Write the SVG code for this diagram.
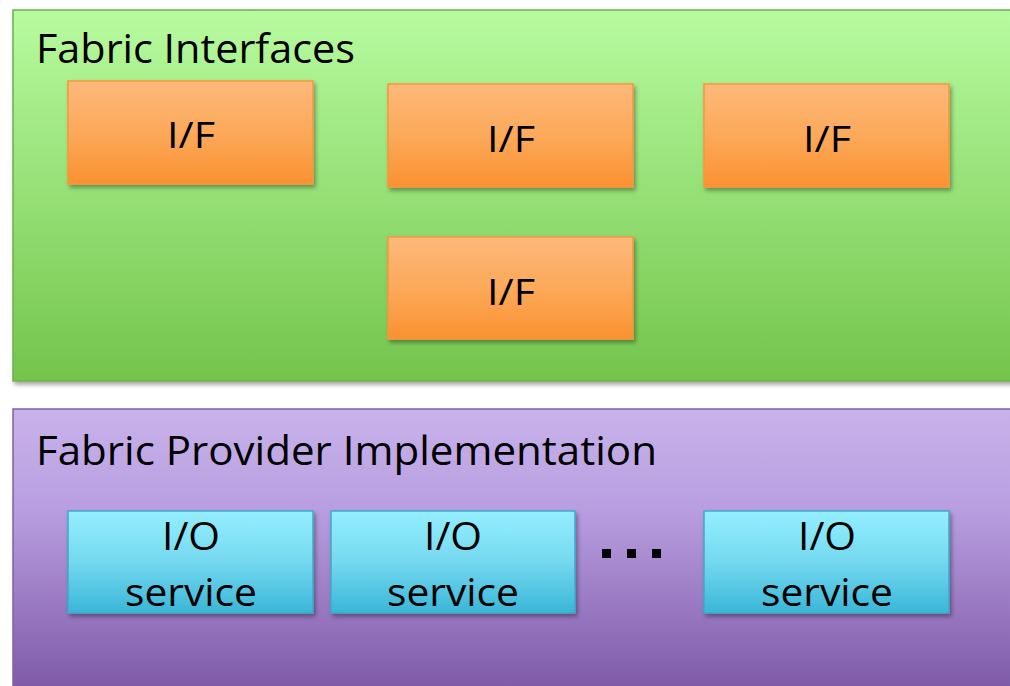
<svg xmlns="http://www.w3.org/2000/svg" width="1010" height="686" viewBox="0 0 1010 686">
  <defs>
    <linearGradient id="gGreen" x1="0" y1="0" x2="0" y2="1">
      <stop offset="0" stop-color="#b7fb9f"/>
      <stop offset="1" stop-color="#74c44c"/>
    </linearGradient>
    <linearGradient id="gPurple" x1="0" y1="0" x2="0" y2="1">
      <stop offset="0" stop-color="#c9b2eb"/>
      <stop offset="0.35" stop-color="#b89ee0"/>
      <stop offset="1" stop-color="#7b56a4"/>
    </linearGradient>
    <linearGradient id="gOrange" x1="0" y1="0" x2="0" y2="1">
      <stop offset="0" stop-color="#fdb97a"/>
      <stop offset="0.5" stop-color="#fca95a"/>
      <stop offset="1" stop-color="#fa9130"/>
    </linearGradient>
    <linearGradient id="gCyan" x1="0" y1="0" x2="0" y2="1">
      <stop offset="0" stop-color="#94efff"/>
      <stop offset="0.5" stop-color="#74d8ef"/>
      <stop offset="1" stop-color="#3ab6d8"/>
    </linearGradient>
    <filter id="shadow" x="-10%" y="-10%" width="130%" height="140%">
      <feDropShadow dx="2" dy="3" stdDeviation="2" flood-color="#000" flood-opacity="0.35"/>
    </filter>
  </defs>
  <style>
    .panelG { fill: url(#gGreen); stroke: #6fae50; stroke-width: 1.5; filter: url(#shadow); }
    .panelP { fill: url(#gPurple); stroke: #7c62a4; stroke-width: 1.5; }
    .iface { fill: url(#gOrange); stroke: #f7963f; stroke-width: 1.5; filter: url(#shadow); }
    .iosvc { fill: url(#gCyan); stroke: #3fa9c8; stroke-width: 1.5; filter: url(#shadow); }
    .title { font-family: "Open Sans", "Liberation Sans", sans-serif; font-size: 41px; fill: #000; }
    .lbl { font-family: "Open Sans", "Liberation Sans", sans-serif; font-size: 36px; fill: #000; text-anchor: middle; }
    .svc { font-family: "Open Sans", "Liberation Sans", sans-serif; font-size: 38px; fill: #000; text-anchor: middle; }
  </style>

  <rect width="1010" height="686" fill="#ffffff"/>

  <!-- Fabric Interfaces layer -->
  <g id="fabric-interfaces">
    <rect class="panelG" x="13" y="10" width="1010" height="371"/>
    <text class="title" x="36" y="63" textLength="319" lengthAdjust="spacingAndGlyphs">Fabric Interfaces</text>
  </g>
  <g id="if-1">
    <rect class="iface" x="68" y="81" width="245" height="103"/>
    <text class="lbl" x="191" y="148" textLength="48" lengthAdjust="spacingAndGlyphs">I/F</text>
  </g>
  <g id="if-2">
    <rect class="iface" x="388" y="84" width="245" height="103"/>
    <text class="lbl" x="511" y="152" textLength="48" lengthAdjust="spacingAndGlyphs">I/F</text>
  </g>
  <g id="if-3">
    <rect class="iface" x="704" y="84" width="245" height="103"/>
    <text class="lbl" x="827" y="152" textLength="48" lengthAdjust="spacingAndGlyphs">I/F</text>
  </g>
  <g id="if-4">
    <rect class="iface" x="388" y="237" width="245" height="102"/>
    <text class="lbl" x="511" y="305" textLength="48" lengthAdjust="spacingAndGlyphs">I/F</text>
  </g>

  <!-- Fabric Provider Implementation layer -->
  <g id="fabric-provider">
    <rect class="panelP" x="13" y="409" width="1010" height="290"/>
    <text class="title" x="36" y="465" textLength="621" lengthAdjust="spacingAndGlyphs">Fabric Provider Implementation</text>
  </g>
  <g id="io-service-1">
    <rect class="iosvc" x="68" y="511" width="245" height="102"/>
    <text class="svc" x="191" y="550" textLength="58" lengthAdjust="spacingAndGlyphs">I/O</text>
    <text class="svc" x="191" y="606" textLength="132" lengthAdjust="spacingAndGlyphs">service</text>
  </g>
  <g id="io-service-2">
    <rect class="iosvc" x="331" y="511" width="244" height="102"/>
    <text class="svc" x="453" y="550" textLength="58" lengthAdjust="spacingAndGlyphs">I/O</text>
    <text class="svc" x="453" y="606" textLength="132" lengthAdjust="spacingAndGlyphs">service</text>
  </g>
  <g id="ellipsis">
    <rect x="602" y="549" width="9" height="9" fill="#000"/>
    <rect x="627" y="549" width="9" height="9" fill="#000"/>
    <rect x="652" y="549" width="9" height="9" fill="#000"/>
  </g>
  <g id="io-service-3">
    <rect class="iosvc" x="704" y="511" width="245" height="102"/>
    <text class="svc" x="827" y="550" textLength="58" lengthAdjust="spacingAndGlyphs">I/O</text>
    <text class="svc" x="827" y="606" textLength="132" lengthAdjust="spacingAndGlyphs">service</text>
  </g>

  <!-- no connectors between layers -->
  <g id="connectors"/>
</svg>
